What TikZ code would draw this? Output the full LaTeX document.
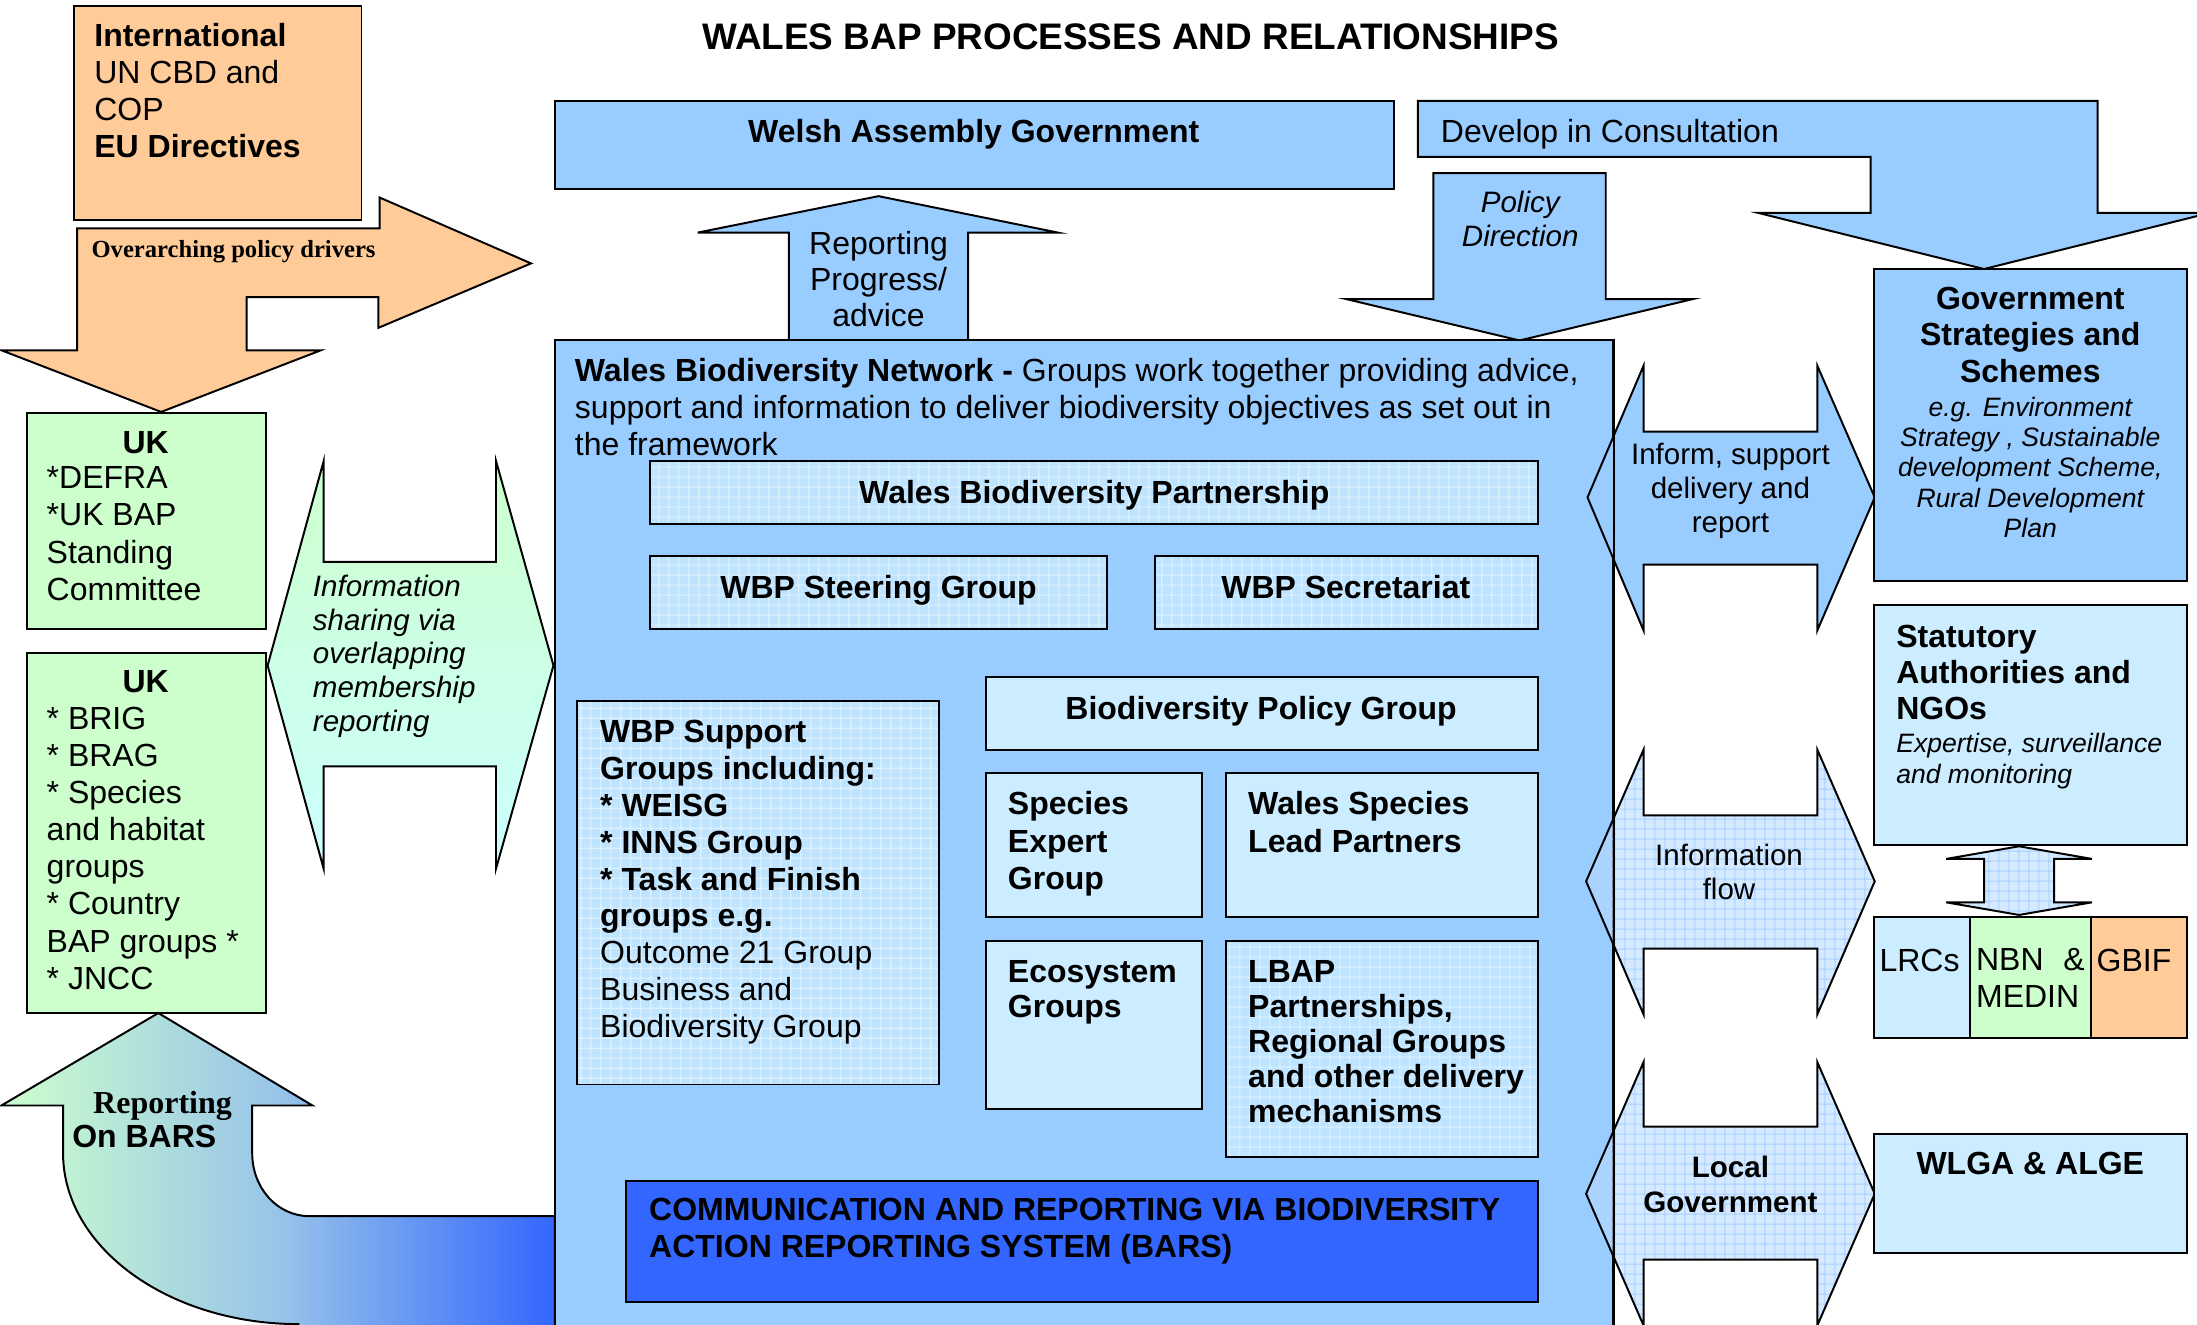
\documentclass[tikz,border=0pt]{standalone}
\usepackage{fontspec}
\setmainfont{Liberation Sans}
\newfontfamily\timesfont{Liberation Serif}
\usetikzlibrary{fit,patterns.meta}
\definecolor{peach}{HTML}{FFCC99}
\definecolor{mint}{HTML}{CCFFCC}
\definecolor{cyanish}{HTML}{CCFFFF}
\definecolor{skyblue}{HTML}{99CCFF}
\definecolor{paleblue}{HTML}{CCECFF}
\definecolor{gridfill}{HTML}{BFE4FF}
\definecolor{gridline}{HTML}{DDF2FF}
\definecolor{flowfill}{HTML}{B9DAFF}
\definecolor{flowline}{HTML}{A8D0FF}
\definecolor{barsblue}{HTML}{3366FF}
\definecolor{barsmid}{HTML}{98C4E9}
\newcommand{\bigtxt}{\fontsize{13}{15}\selectfont}
\newcommand{\midtxt}{\fontsize{12}{13.7}\selectfont}
\newcommand{\smalltxt}{\fontsize{10.8}{12.3}\selectfont}
\tikzstyle{box} = [rectangle, draw, line width=0.8pt, inner sep=0pt]
\tikzstyle{gridbox} = [box, preaction={fill=gridfill}, pattern={Hatch[angle=0,distance=4pt,line width=0.5pt]}, pattern color=gridline]
\tikzstyle{blockarrow} = [draw, line width=0.8pt, line join=miter]
\tikzstyle{flowarrow} = [blockarrow, preaction={fill=flowfill, fill opacity=0.6}, pattern={Hatch[angle=0,distance=4pt,line width=0.4pt]}, pattern color=flowline]
\tikzstyle{txt} = [inner sep=0pt, align=left, font=\bigtxt]

\begin{document}
\begin{tikzpicture}[x=0.02cm, y=-0.02cm]
  \useasboundingbox (0,0) rectangle (1568,945);
  % Title
  \node [txt, font=\fontsize{15}{18}\selectfont\bfseries] (title) at (807,26) {WALES BAP PROCESSES AND RELATIONSHIPS};

  % Left column
  \path [blockarrow, fill=peach] (55,163) -- (271,163) -- (271,141) -- (379,188) -- (270,234) -- (270,212) -- (176,212) -- (176,250) -- (229,250) -- (115,294) -- (1,250) -- (55,250) -- cycle;
  \node [box, fill=peach, fit={(53,4) (258,157)}] (intl) {};
  \node [box, fill=mint, fit={(19,295) (190,449)}] (uka) {};
  \node [box, fill=mint, fit={(19,466) (190,723)}] (ukb) {};
  \path [blockarrow, left color=mint, right color=barsblue, middle color=barsmid] (113,723) -- (223,789) -- (180,789) -- (180,823) .. controls (180,848) and (198,868) .. (221,868) -- (396,868) -- (396,952) -- (213,952) -- (213,945) .. controls (120,945) and (45,890) .. (45,823) -- (45,789) -- (1,789) -- cycle;
  \path [blockarrow, top color=mint, bottom color=cyanish] (231,329) -- (231,401) -- (354,401) -- (354,329) -- (395,475) -- (354,620) -- (354,547) -- (231,547) -- (231,620) -- (191,475) -- cycle;

  % Top row
  \node [box, fill=skyblue, fit={(396,72) (995,135)}] (wag) {};
  \path [blockarrow, fill=skyblue] (627,140) -- (755,166) -- (691,166) -- (691,243) -- (563,243) -- (563,166) -- (498,166) -- cycle;
  \path [blockarrow, fill=skyblue] (1012,72) -- (1497,72) -- (1497,152) -- (1577,152) -- (1416,192) -- (1255,152) -- (1335,152) -- (1335,112) -- (1012,112) -- cycle;
  \path [blockarrow, fill=skyblue] (1023,123.5) -- (1146,123.5) -- (1146,213.5) -- (1208,213.5) -- (1084.5,243) -- (961,213.5) -- (1023,213.5) -- cycle;

  % Wales Biodiversity Network
  \node [box, fill=skyblue, fit={(396,243) (1151,960)}] (net) {};
  \node [gridbox, fit={(464,329) (1098,374)}] (wbp) {};
  \node [gridbox, fit={(464,397) (790,449)}] (steer) {};
  \node [gridbox, fit={(824,397) (1098,449)}] (secr) {};
  \node [gridbox, fit={(412,500) (670,774)}] (support) {};
  \node [box, fill=paleblue, fit={(704,483) (1098,535)}] (bpg) {};
  \node [box, fill=paleblue, fit={(704,551.5) (858,654.5)}] (seg) {};
  \node [box, fill=paleblue, fit={(875,551.5) (1098,654.5)}] (wslp) {};
  \node [box, fill=paleblue, fit={(704,671.5) (858,791.5)}] (eco) {};
  \node [gridbox, fit={(875,671.5) (1098,825.5)}] (lbap) {};
  \node [box, fill=barsblue, fit={(446.5,843) (1098,929)}] (bars) {};

  % Right column
  \path [blockarrow, fill=skyblue] (1173,261) -- (1173,308) -- (1297,308) -- (1297,261) -- (1338,355) -- (1297,450) -- (1297,403) -- (1173,403) -- (1173,450) -- (1133,355) -- cycle;
  \path [flowarrow] (1173,535) -- (1173,582) -- (1297,582) -- (1297,535) -- (1338,629) -- (1297,724) -- (1297,677) -- (1173,677) -- (1173,724) -- (1132,629) -- cycle;
  \path [flowarrow] (1173,758) -- (1173,804) -- (1297,804) -- (1297,758) -- (1338,852) -- (1297,946) -- (1297,899) -- (1173,899) -- (1173,946) -- (1132,852) -- cycle;
  \draw [line width=0.8pt] (net.north east) -- (net.south east);
  \node [box, fill=skyblue, fit={(1337.5,192) (1561,415)}] (govt) {};
  \node [box, fill=paleblue, fit={(1337.5,432) (1561,603)}] (stat) {};
  \path [flowarrow] (1441,604) -- (1493,613) -- (1466,613) -- (1466,644) -- (1493,644) -- (1441,653) -- (1389,644) -- (1416,644) -- (1416,613) -- (1389,613) -- cycle;
  \node [box, fill=paleblue, fit={(1337.5,654.5) (1406,741)}] (lrc) {};
  \node [box, fill=mint, fit={(1406,654.5) (1492.5,741)}] (nbn) {};
  \node [box, fill=peach, fit={(1492.5,654.5) (1561,741)}] (gbif) {};
  \node [box, fill=paleblue, fit={(1337.5,809) (1561,894.5)}] (wlga) {};

  % Place texts
  \node [txt, anchor=north west] (intltext) at (67,16.5) {\textbf{International}\\UN CBD and\\COP\\\textbf{EU Directives}};
  \node [txt, anchor=base west, font=\timesfont\bfseries\fontsize{10}{12}\selectfont] (drivers) at (65,184) {Overarching policy drivers};
  \node [txt, anchor=north, font=\bigtxt\bfseries] (ukahead) at (104,307.5) {UK};
  \node [txt, anchor=north west, font=\fontsize{13}{15.2}\selectfont] (ukalist) at (33,332.5) {*DEFRA\\*UK BAP\\Standing\\Committee};
  \node [txt, anchor=north, font=\bigtxt\bfseries] (ukbhead) at (104,478.5) {UK};
  \node [txt, anchor=north west, font=\fontsize{13}{15.1}\selectfont] (ukblist) at (33,504) {* BRIG\\* BRAG\\* Species\\and habitat\\groups\\* Country\\BAP groups *\\* JNCC};
  \node [txt, anchor=north west, font=\midtxt\itshape] (sharetext) at (223,410) {Information\\sharing via\\overlapping\\membership\\reporting};
  \node [txt, anchor=base, font=\timesfont\bfseries\fontsize{13}{15}\selectfont] (barsup) at (116,795) {Reporting};
  \node [txt, anchor=base, font=\bigtxt\bfseries] (barson) at (103,819) {On BARS};

  \node [txt, anchor=base, font=\bigtxt\bfseries] (wagtext) at (695,101.7) {Welsh Assembly Government};
  \node [txt, anchor=north, align=center, font=\fontsize{13}{14.6}\selectfont] (progress) at (627,165) {Reporting\\Progress/\\advice};
  \node [txt, anchor=base west] (develop) at (1028,101.7) {Develop in Consultation};
  \node [txt, anchor=north, align=center, font=\midtxt\itshape] (policy) at (1085,136) {Policy\\Direction};

  \node [txt, anchor=north west] (nettext) at (410,255.5) {\textbf{Wales Biodiversity Network -} Groups work together providing advice,\\support and information to deliver biodiversity objectives as set out in\\the framework};
  \node [txt, anchor=base, font=\bigtxt\bfseries] (wbptext) at (781,359.2) {Wales Biodiversity Partnership};
  \node [txt, anchor=base, font=\bigtxt\bfseries] (steertext) at (627,427) {WBP Steering Group};
  \node [txt, anchor=base, font=\bigtxt\bfseries] (secrtext) at (960.5,427) {WBP Secretariat};
  \node [txt, anchor=north west] (supporttext) at (428,513.5) {\textbf{WBP Support}\\\textbf{Groups including:}\\\textbf{* WEISG}\\\textbf{* INNS Group}\\\textbf{* Task and Finish}\\\textbf{groups e.g.}\\Outcome 21 Group\\Business and\\Biodiversity Group};
  \node [txt, anchor=base, font=\bigtxt\bfseries] (bpgtext) at (900,513.2) {Biodiversity Policy Group};
  \node [txt, anchor=north west, font=\fontsize{13}{15.2}\selectfont\bfseries] (segtext) at (719,564.5) {Species\\Expert\\Group};
  \node [txt, anchor=north west, font=\fontsize{13}{15.2}\selectfont\bfseries] (wslptext) at (890.5,564.5) {Wales Species\\Lead Partners};
  \node [txt, anchor=north west, font=\fontsize{13}{14.2}\selectfont\bfseries] (ecotext) at (719,685) {Ecosystem\\Groups};
  \node [txt, anchor=north west, font=\fontsize{13}{14.2}\selectfont\bfseries] (lbaptext) at (890.5,685) {LBAP\\Partnerships,\\Regional Groups\\and other delivery\\mechanisms};
  \node [txt, anchor=north west, font=\fontsize{13}{14.9}\selectfont\bfseries] (barstext) at (463,855) {COMMUNICATION AND REPORTING VIA BIODIVERSITY\\ACTION REPORTING SYSTEM (BARS)};

  \node [txt, anchor=north, align=center, font=\midtxt] (informtext) at (1235,316) {Inform, support\\delivery and\\report};
  \node [txt, anchor=north, align=center, font=\fontsize{12}{14}\selectfont] (flowtext) at (1234,602) {Information\\flow};
  \node [txt, anchor=north, align=center, font=\fontsize{12}{14.2}\selectfont\bfseries] (localtext) at (1235,825) {Local\\Government};
  \node [txt, anchor=north, align=center, font=\fontsize{13}{14.8}\selectfont\bfseries] (govhead) at (1449,204.5) {Government\\Strategies and\\Schemes};
  \node [txt, anchor=north, align=center, font=\smalltxt\itshape] (govbody) at (1449,283) {e.g. Environment\\Strategy , Sustainable\\development Scheme,\\Rural Development\\Plan};
  \node [txt, anchor=north west, font=\fontsize{13}{14.5}\selectfont\bfseries] (stathead) at (1353,446) {Statutory\\Authorities and\\NGOs};
  \node [txt, anchor=north west, font=\fontsize{10.8}{12.5}\selectfont\itshape] (statbody) at (1353,523) {Expertise, surveillance\\and monitoring};
  \node [txt, anchor=base] (lrctext) at (1370,693.2) {LRCs};
  \node [txt, anchor=north west, text width=1.55cm, font=\fontsize{13}{15.1}\selectfont] (nbntext) at (1410,676.5) {NBN \hfill \&\\MEDIN};
  \node [txt, anchor=base west] (gbiftext) at (1496,693.2) {GBIF};
  \node [txt, anchor=base, font=\bigtxt\bfseries] (wlgatext) at (1449,838.2) {WLGA \& ALGE};
\end{tikzpicture}
\end{document}
